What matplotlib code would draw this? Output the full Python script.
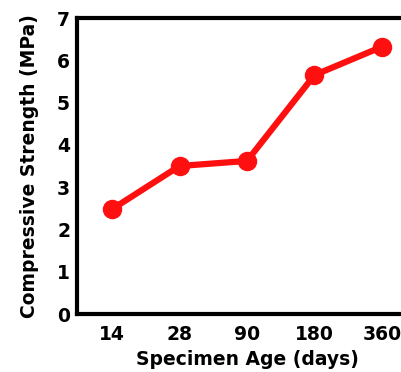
import matplotlib
matplotlib.use("Agg")
import matplotlib.pyplot as plt

ages = ["14", "28", "90", "180", "360"]
strength = [2.48, 3.5, 3.62, 5.65, 6.32]
yticks = [0, 1, 2, 3, 4, 5, 6, 7]

plt.rcParams['font.family'] = ['DejaVu Sans']

fig = plt.figure(figsize=(4.02, 3.72), dpi=100)
ax = fig.add_axes([77/402, 1-314/372, 340/402, (314-18)/372])
x = list(range(len(ages)))
ax.plot(x, strength, color='#ff1010', lw=4.5, marker='o', ms=13, mfc='#ff1010', mec='#ff1010')
ax.set_xlim(-0.52, 4.52)
ax.set_ylim(0, 7)
ax.set_xticks(x)
ax.set_xticklabels(ages)
ax.set_yticks(yticks)
ax.tick_params(axis='x', length=0, labelsize=13.5, pad=8)
ax.tick_params(axis='y', length=0, labelsize=13.5, pad=5)
for lab in ax.get_xticklabels() + ax.get_yticklabels():
    lab.set_fontweight('heavy')
for s in ax.spines.values():
    s.set_linewidth(3)
ax.set_xlabel("Specimen Age (days)", fontsize=13.5, fontweight='heavy', labelpad=4)
ax.set_ylabel("Compressive Strength (MPa)", fontsize=13.5, fontweight='heavy', labelpad=13)
fig.savefig("out.png", dpi=100)
